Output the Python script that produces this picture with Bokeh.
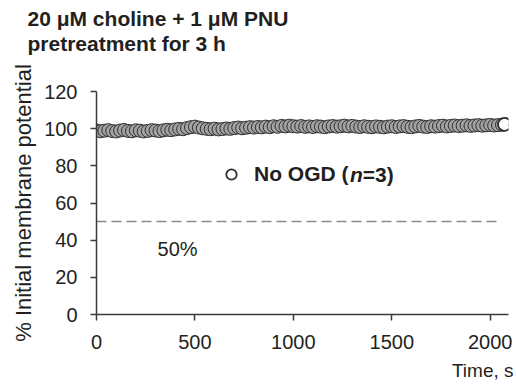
from bokeh.plotting import figure
from bokeh.models import Range1d, Label, Legend, LegendItem, FixedTicker, Title
from bokeh.embed import file_html
from bokeh.resources import INLINE

# ---- data ----
time_s = [0, 20, 40, 60, 80, 100, 120, 140, 160, 180,
          200, 220, 240, 260, 280, 300, 320, 340, 360, 380,
          400, 420, 440, 460, 480, 500, 520, 540, 560, 580,
          600, 620, 640, 660, 680, 700, 720, 740, 760, 780,
          800, 820, 840, 860, 880, 900, 920, 940, 960, 980,
          1000, 1020, 1040, 1060, 1080, 1100, 1120, 1140, 1160, 1180,
          1200, 1220, 1240, 1260, 1280, 1300, 1320, 1340, 1360, 1380,
          1400, 1420, 1440, 1460, 1480, 1500, 1520, 1540, 1560, 1580,
          1600, 1620, 1640, 1660, 1680, 1700, 1720, 1740, 1760, 1780,
          1800, 1820, 1840, 1860, 1880, 1900, 1920, 1940, 1960, 1980,
          2000, 2020, 2040, 2060]
potential_pct = [99.0, 98.6, 98.9, 99.2, 98.7, 98.5, 99.0, 99.3, 98.8, 98.6,
                 99.1, 98.9, 98.5, 98.8, 99.2, 99.0, 98.7, 99.1, 99.4, 99.2,
                 99.6, 99.9, 99.7, 100.3, 100.8, 101.1, 100.6, 100.2, 99.9, 99.7,
                 100.0, 99.6, 99.8, 100.1, 99.9, 100.3, 100.6, 100.2, 100.5, 100.8,
                 100.6, 100.9, 100.7, 101.1, 100.8, 101.3, 101.0, 101.5, 101.2, 101.6,
                 101.3, 101.1, 101.4, 101.0, 101.2, 100.9, 101.3, 101.1, 100.8, 101.2,
                 101.4, 101.1, 101.3, 101.6, 101.2, 101.5, 101.1, 100.9, 101.3, 101.0,
                 100.8, 101.2, 101.0, 100.7, 101.1, 101.3, 100.9, 101.2, 101.4, 101.0,
                 100.8, 101.2, 101.5, 101.1, 100.9, 101.3, 101.1, 101.4, 101.6, 101.2,
                 101.5, 101.7, 101.4, 101.6, 101.8, 101.5, 101.7, 101.9, 101.6, 101.8,
                 102.0, 101.7, 101.9, 102.1]
last_time = [2073]
last_pct = [102.3]
threshold_time = [0, 2040]
threshold_pct = [50, 50]
x_ticks = [0, 500, 1000, 1500, 2000]
y_ticks = [0, 20, 40, 60, 80, 100, 120]

FONT = "Liberation Sans"
TXT = "#231f20"
AX = "#3a3a3a"

p = figure(width=514, height=387, output_backend="svg", toolbar_location=None,
           x_range=Range1d(0, 2093), y_range=Range1d(0, 120),
           min_border_left=96, min_border_right=6, min_border_top=91, min_border_bottom=73)
p.outline_line_color = None
p.xgrid.visible = False
p.ygrid.visible = False

for ax in (p.xaxis[0], p.yaxis[0]):
    ax.axis_line_color = AX
    ax.axis_line_width = 1.5
    ax.major_tick_line_color = AX
    ax.major_tick_line_width = 1.5
    ax.major_tick_out = 6
    ax.major_tick_in = 0
    ax.minor_tick_line_color = None
    ax.major_label_text_font = FONT
    ax.major_label_text_font_size = "20px"
    ax.major_label_text_color = TXT

p.xaxis.ticker = FixedTicker(ticks=x_ticks)
p.yaxis.ticker = FixedTicker(ticks=y_ticks)
p.xaxis.major_label_standoff = 14
p.yaxis.major_label_standoff = 13
p.yaxis.axis_label = "% Initial membrane potential"
p.yaxis.axis_label_text_font = FONT
p.yaxis.axis_label_text_font_size = "22px"
p.yaxis.axis_label_text_font_style = "normal"
p.yaxis.axis_label_text_color = TXT
p.yaxis.axis_label_standoff = 5

# threshold line
p.line(threshold_time, threshold_pct, line_color="#8a8a8a", line_width=1.5, line_dash="10 5")

# data trace
p.scatter(time_s, potential_pct, marker="circle", size=13,
          fill_color="#a2a2a2", line_color="#2e2e2e", line_width=1)
last_r = p.scatter(last_time, last_pct, marker="circle", size=13,
                   fill_color="white", line_color="#2e2e2e", line_width=1.8)

# legend
legend = Legend(items=[LegendItem(label="No OGD (", renderers=[last_r])],
                location=(122, 127), orientation="vertical",
                glyph_width=26, glyph_height=26, label_height=26, label_standoff=10,
                padding=0, margin=0, spacing=0,
                border_line_color=None, background_fill_alpha=0,
                label_text_font=FONT, label_text_font_size="21px",
                label_text_font_style="bold", label_text_color=TXT)
p.add_layout(legend)
p.add_layout(Label(x=253.5, y=140, x_units="screen", y_units="screen", text="n",
                   text_font=FONT, text_font_size="21px", text_font_style="bold italic",
                   text_color=TXT, text_baseline="middle"))
p.add_layout(Label(x=266.3, y=140, x_units="screen", y_units="screen", text="=3)",
                   text_font=FONT, text_font_size="21px", text_font_style="bold",
                   text_color=TXT, text_baseline="middle"))

# 50% label
p.add_layout(Label(x=310, y=35.4, text="50%", text_font=FONT, text_font_size="20px",
                   text_color=TXT, text_baseline="middle"))

# spacer between frame and title block, then title lines (closest to the frame first)
p.add_layout(Title(text=" ", standoff=34, text_font=FONT, text_font_size="1px"), "above")
p.add_layout(Title(text="pretreatment for 3 h", align="left", offset=-69, standoff=0,
                   text_font=FONT, text_font_size="21px", text_font_style="bold",
                   text_line_height=1.0, text_color=TXT), "above")
p.add_layout(Title(text="20 \u03bcM choline + 1 \u03bcM PNU", align="left", offset=-69,
                   standoff=0, text_font=FONT, text_font_size="21px",
                   text_font_style="bold", text_color=TXT), "above")

# x-axis title
p.add_layout(Title(text="Time, s", align="right", offset=-5, standoff=12,
                   text_font=FONT, text_font_size="19px", text_font_style="normal",
                   text_color=TXT), "below")

open("out.html", "w").write(file_html(p, INLINE))
